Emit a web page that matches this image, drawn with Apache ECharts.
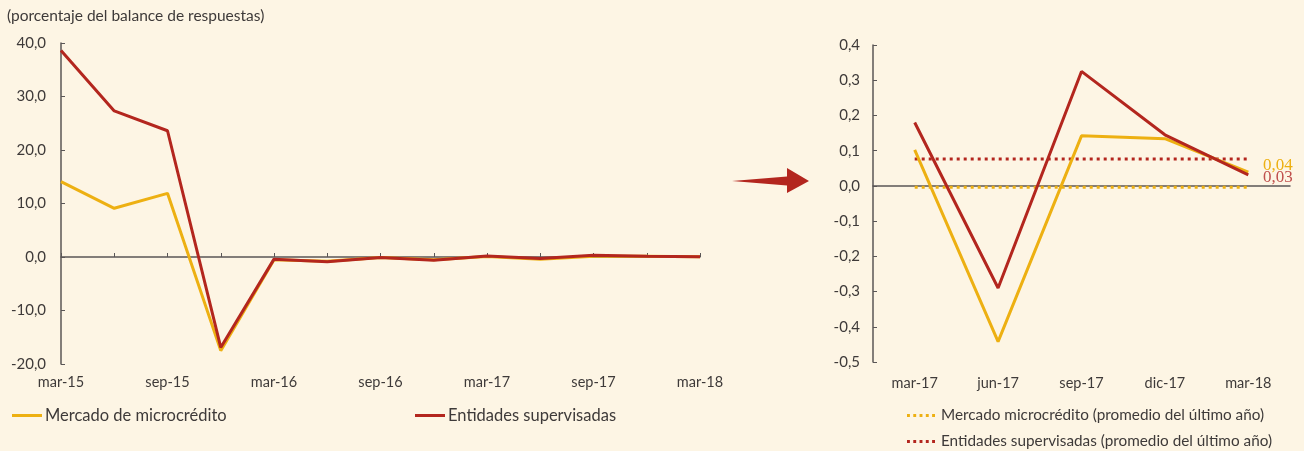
<!DOCTYPE html>
<html>
<head>
<meta charset="utf-8">
<script src="https://cdn.jsdelivr.net/npm/echarts@6/dist/echarts.min.js"></script>
<style>
html,body{margin:0;padding:0;background:#FDF5E4;}
#c{width:1304px;height:451px;}
</style>
</head>
<body>
<div id="c"></div>
<script>
// ---- data ----
var catsLeft = ['mar-15','jun-15','sep-15','dic-15','mar-16','jun-16','sep-16','dic-16','mar-17','jun-17','sep-17','dic-17','mar-18'];
var microLeft = [14.1, 9.1, 11.9, -17.5, -0.5, -0.8, -0.1, -0.5, 0.10, -0.44, 0.14, 0.13, 0.04];
var supLeft   = [38.6, 27.3, 23.6, -16.9, -0.4, -0.9, -0.1, -0.6, 0.18, -0.29, 0.33, 0.14, 0.03];

var catsRight = ['mar-17','jun-17','sep-17','dic-17','mar-18'];
var microRight = [0.102, -0.442, 0.142, 0.134, 0.039];
var supRight   = [0.180, -0.290, 0.325, 0.145, 0.031];
var microAvg = [-0.004, -0.004, -0.004, -0.004, -0.004];
var supAvg   = [0.076, 0.076, 0.076, 0.076, 0.076];
var endLabels = ['0,04', '0,03'];

var leftTicks = {min: -20, max: 40, interval: 10};
var rightTicks = {min: -0.5, max: 0.4, interval: 0.1};

var YELLOW = '#EDB012';
var RED = '#B3261E';
var TXT = '#3E3A39';
var AX = '#5A5656';
var FONT = 'Lato, "Open Sans", sans-serif';
var DOTS = 'path://M0,0h3v3h-3z M6.5,0h3v3h-3z M13,0h3v3h-3z M19.5,0h3v3h-3z M26,0h3v3h-3z';

function fmt(d){ return function(v){ return v.toFixed(d).replace('.', ','); }; }

var chart = echarts.init(document.getElementById('c'));
var option = {
  backgroundColor: '#FDF5E4',
  animation: false,
  textStyle: {fontFamily: FONT, color: TXT},
  title: {
    text: '(porcentaje del balance de respuestas)',
    left: 2, top: 3,
    textStyle: {fontFamily: FONT, fontSize: 15.5, fontWeight: 'normal', color: TXT}
  },
  grid: [
    {left: 61, right: 604, top: 43, bottom: 87},
    {left: 873, right: 14, top: 45, bottom: 89}
  ],
  xAxis: [
    {gridIndex: 0, type: 'category', data: catsLeft, boundaryGap: false,
     axisLine: {onZero: true, lineStyle: {color: AX, width: 1.5}},
     axisTick: {inside: true, length: 4, lineStyle: {color: AX}, interval: 0},
     axisLabel: {show: false}, splitLine: {show: false}},
    {gridIndex: 0, type: 'category', data: catsLeft, boundaryGap: false, position: 'bottom',
     axisLine: {show: false, onZero: false}, axisTick: {show: false},
     axisLabel: {interval: 1, margin: 11, fontSize: 14.5, color: TXT, fontFamily: FONT}},
    {gridIndex: 1, type: 'category', data: catsRight, boundaryGap: true,
     axisLine: {onZero: true, lineStyle: {color: AX, width: 1.5}},
     axisTick: {inside: true, length: 4, lineStyle: {color: AX}},
     axisLabel: {show: false}, splitLine: {show: false}},
    {gridIndex: 1, type: 'category', data: catsRight, boundaryGap: true, position: 'bottom',
     axisLine: {show: false, onZero: false}, axisTick: {show: false},
     axisLabel: {margin: 14, fontSize: 14.5, color: TXT, fontFamily: FONT}}
  ],
  yAxis: [
    {gridIndex: 0, type: 'value', min: leftTicks.min, max: leftTicks.max, interval: leftTicks.interval,
     axisLine: {show: true, lineStyle: {color: AX, width: 1.5}},
     axisTick: {show: true, inside: true, length: 4, lineStyle: {color: AX}},
     splitLine: {show: false},
     axisLabel: {formatter: fmt(1), fontSize: 15, color: TXT, margin: 15, fontFamily: FONT}},
    {gridIndex: 1, type: 'value', min: rightTicks.min, max: rightTicks.max, interval: rightTicks.interval,
     axisLine: {show: true, lineStyle: {color: AX, width: 1.5}},
     axisTick: {show: true, inside: true, length: 4, lineStyle: {color: AX}},
     splitLine: {show: false},
     axisLabel: {formatter: fmt(1), fontSize: 15, color: TXT, margin: 13, fontFamily: FONT}}
  ],
  legend: [
    {data: [{name: 'Mercado de microcrédito', icon: 'rect'}], left: 7, top: 402, itemWidth: 30, itemHeight: 3,
     textStyle: {fontSize: 16.5, color: TXT, fontFamily: FONT, padding: [0,0,0,-2]}},
    {data: [{name: 'Entidades supervisadas', icon: 'rect'}], left: 410, top: 402, itemWidth: 30, itemHeight: 3,
     textStyle: {fontSize: 16.5, color: TXT, fontFamily: FONT, padding: [0,0,0,-2]}},
    {data: [{name: 'Mercado microcrédito (promedio del último año)', icon: DOTS}], left: 902, top: 403,
     itemWidth: 28, itemHeight: 3,
     textStyle: {fontSize: 15.3, color: TXT, fontFamily: FONT, padding: [0,0,0,1]}},
    {data: [{name: 'Entidades supervisadas (promedio del último año)', icon: DOTS}], left: 902, top: 429,
     itemWidth: 28, itemHeight: 3,
     textStyle: {fontSize: 15.3, color: TXT, fontFamily: FONT, padding: [0,0,0,1]}}
  ],
  series: [
    {name: 'Mercado de microcrédito', type: 'line', xAxisIndex: 0, yAxisIndex: 0, data: microLeft,
     symbol: 'none', lineStyle: {color: YELLOW, width: 3}, itemStyle: {color: YELLOW}, z: 3},
    {name: 'Entidades supervisadas', type: 'line', xAxisIndex: 0, yAxisIndex: 0, data: supLeft,
     symbol: 'none', lineStyle: {color: RED, width: 3}, itemStyle: {color: RED}, z: 4},
    {name: 'Mercado microcrédito (promedio del último año)', type: 'line', xAxisIndex: 2, yAxisIndex: 1, data: microAvg,
     symbol: 'none', lineStyle: {color: YELLOW, width: 3, type: [3, 4]}, itemStyle: {color: YELLOW}, z: 2},
    {name: 'Entidades supervisadas (promedio del último año)', type: 'line', xAxisIndex: 2, yAxisIndex: 1, data: supAvg,
     symbol: 'none', lineStyle: {color: RED, width: 3, type: [3, 4]}, itemStyle: {color: RED}, z: 2},
    {name: 'micro-r', type: 'line', xAxisIndex: 2, yAxisIndex: 1, data: microRight,
     symbol: 'none', lineStyle: {color: YELLOW, width: 3}, itemStyle: {color: YELLOW}, z: 3},
    {name: 'sup-r', type: 'line', xAxisIndex: 2, yAxisIndex: 1, data: supRight,
     symbol: 'none', lineStyle: {color: RED, width: 3}, itemStyle: {color: RED}, z: 4}
  ],
  graphic: [
    {type: 'polygon', shape: {points: [[732,181],[787,176.5],[787,168],[809,181],[787,193],[787,185.5]]},
     style: {fill: RED}},
    {type: 'text', left: 1263, top: 157, style: {text: endLabels[0], fill: YELLOW, font: '17px "Liberation Serif", serif'}},
    {type: 'text', left: 1263, top: 169, style: {text: endLabels[1], fill: '#C0504D', font: '17px "Liberation Serif", serif'}}
  ]
};
chart.setOption(option);
</script>
</body>
</html>
